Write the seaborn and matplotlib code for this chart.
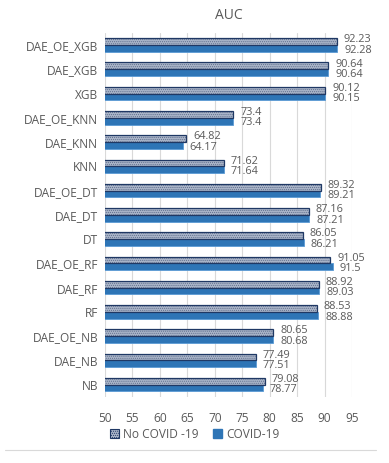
import matplotlib
matplotlib.use("Agg")
import matplotlib.pyplot as plt
import seaborn as sns
import pandas as pd
from matplotlib.lines import Line2D
from matplotlib.patches import Rectangle

# ---- data ----
models = ["DAE_OE_XGB", "DAE_XGB", "XGB", "DAE_OE_KNN", "DAE_KNN", "KNN",
          "DAE_OE_DT", "DAE_DT", "DT", "DAE_OE_RF", "DAE_RF", "RF",
          "DAE_OE_NB", "DAE_NB", "NB"]
no_covid = [92.23, 90.64, 90.12, 73.4, 64.82, 71.62,
            89.32, 87.16, 86.05, 91.05, 88.92, 88.53,
            80.65, 77.49, 79.08]
covid = [92.28, 90.64, 90.15, 73.4, 64.17, 71.64,
         89.21, 87.21, 86.21, 91.5, 89.03, 88.88,
         80.68, 77.51, 78.77]
series = ["No COVID -19", "COVID-19"]
x_ticks = [50, 55, 60, 65, 70, 75, 80, 85, 90, 95]

df = pd.DataFrame({
    "model": models * 2,
    "auc": no_covid + covid,
    "group": [series[0]] * len(models) + [series[1]] * len(models),
})

sns.set_style("white")
plt.rcParams["font.family"] = ["Open Sans", "DejaVu Sans"]
plt.rcParams["hatch.linewidth"] = 0.5

fig = plt.figure(figsize=(3.89, 4.63), dpi=100)
ax = fig.add_axes([0.27, 0.143, 0.635, 0.786])

palette = {series[0]: "#A9B4C8", series[1]: "#2E75B6"}
sns.barplot(data=df, y="model", x="auc", hue="group", order=models,
            hue_order=series, palette=palette, orient="h", width=0.56,
            gap=0.0, ax=ax, legend=False, saturation=1)

label_col = "#595959"
# hatched "No COVID" bars with a dark border, plain "COVID" bars
for bar in ax.containers[0]:
    bar.set_hatch("........")
    bar.set_edgecolor("#5E6E8C")
    bar.set_linewidth(0)
    ax.add_patch(Rectangle(bar.get_xy(), bar.get_width(), bar.get_height(),
                           fill=False, edgecolor="#1F3864", lw=0.9, zorder=3))
for bar in ax.containers[1]:
    bar.set_edgecolor("#5B9BD5")
    bar.set_linewidth(0.6)

# value labels: No COVID slightly above, COVID slightly below
for cont, vals, dy in [(ax.containers[0], no_covid, 1.3),
                       (ax.containers[1], covid, -1.3)]:
    for bar, v in zip(cont, vals):
        y = bar.get_y() + bar.get_height() / 2
        ax.annotate(f"{v:g}", (bar.get_width(), y), xytext=(5, dy),
                    textcoords="offset points", ha="left", va="center",
                    fontsize=7.8, color=label_col)

ax.set_xlim(50, 95)
ax.set_xticks(x_ticks)
ax.set_xlabel("")
ax.set_ylabel("")
ax.grid(axis="x", color="#D9D9D9", lw=0.8)
ax.set_axisbelow(True)
sns.despine(ax=ax, left=True, bottom=True)
ax.tick_params(axis="both", length=0, labelsize=8.6, labelcolor=label_col, pad=5)
ax.tick_params(axis="x", pad=11)
ax.set_title("AUC", fontsize=10, color=label_col, pad=10)

handles = [Rectangle((0, 0), 1, 1, facecolor=palette[series[0]], hatch="........",
                     edgecolor="#1F3864", lw=0.8),
           Rectangle((0, 0), 1, 1, facecolor=palette[series[1]], edgecolor="#2E75B6")]
leg = fig.legend(handles, series, loc="center", bbox_to_anchor=(0.5, 0.062), ncol=2,
                 frameon=False, fontsize=8.6, handlelength=0.8, handleheight=0.8,
                 handletextpad=0.3, columnspacing=1.2, labelcolor=label_col,
                 borderpad=0.1)

fig.add_artist(Line2D([0.013, 0.967], [0.028, 0.028], color="#D9D9D9", lw=0.8))

fig.savefig("out.png", dpi=100, facecolor="white")
